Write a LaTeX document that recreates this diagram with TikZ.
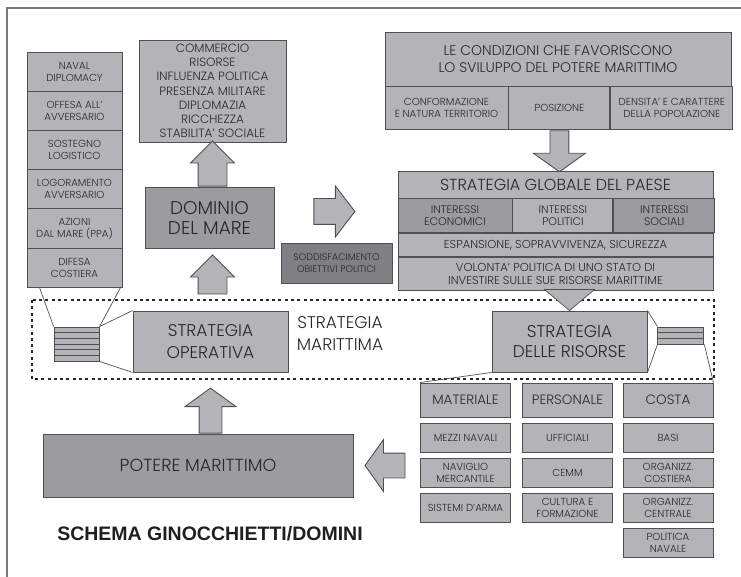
\documentclass[tikz,border=0pt]{standalone}
\usepackage{fontspec}
\setmainfont{Poppins}[UprightFont=* Light]
\newfontfamily\titlefont{Liberation Sans}
\usetikzlibrary{positioning,calc,shapes.arrows}

\definecolor{boxgray}{RGB}{180,180,184}
\definecolor{midgray}{RGB}{156,156,160}
\definecolor{deepgray}{RGB}{128,128,132}
\definecolor{edgegray}{RGB}{80,80,82}
\definecolor{framegray}{RGB}{120,120,120}
\definecolor{inkgray}{RGB}{40,40,40}

\begin{document}
\begin{tikzpicture}[x=1pt,y=-1pt,line width=0.9pt,
    gbox/.style={draw=edgegray,fill=boxgray,text=inkgray,align=center,inner sep=0pt},
    midbox/.style={gbox,fill=midgray},
    deepbox/.style={gbox,fill=deepgray},
    bigarrow/.style={single arrow,draw=edgegray,fill=boxgray,inner xsep=0pt,anchor=tail},
    vertarrow/.style={single arrow,draw=edgegray,fill=boxgray,inner ysep=0pt,anchor=tail},
    smalltxt/.style={font=\fontsize{10.2}{12}\selectfont},
    medtxt/.style={font=\fontsize{12}{14.2}\selectfont},
    hdtxt/.style={font=\fontsize{13.5}{16}\selectfont},
    bigtxt/.style={font=\fontsize{17}{21.5}\selectfont},
    edgeline/.style={draw=edgegray,line width=0.7pt},
    dotframe/.style={line width=2.9pt,dash pattern=on 3pt off 3.3pt,draw=black!85}]
\useasboundingbox (0,0) rectangle (741,577);
\draw[framegray,line width=1.5pt] (7,577) -- (7,8) -- (741,8);

\foreach \txt [count=\i] in {{NAVAL\\DIPLOMACY},{OFFESA ALL'\\AVVERSARIO},{SOSTEGNO\\LOGISTICO},
    {LOGORAMENTO\\AVVERSARIO},{AZIONI\\DAL MARE (PPA)},{DIFESA\\COSTIERA}}
  \node[gbox,smalltxt,minimum width=95,minimum height=39.2] (op\i) at (74.5,{52+39.2*(\i-0.5)}) {\txt};

\node[gbox,medtxt,minimum width=147,minimum height=102] (com) at (212.5,91)
  {COMMERCIO\\RISORSE\\INFLUENZA POLITICA\\PRESENZA MILITARE\\DIPLOMAZIA\\RICCHEZZA\\STABILITA' SOCIALE};
\node[midbox,font=\fontsize{18.5}{20}\selectfont,minimum width=129,minimum height=61] (dom) at (209.5,217.5) {DOMINIO\\DEL MARE};
\node[vertarrow,shape border rotate=90,minimum height=45,inner xsep=14pt,
  single arrow head extend=7.5pt,single arrow tip angle=90] (ar1) at (com.south |- dom.north) {};
\node[vertarrow,shape border rotate=90,minimum height=39,inner xsep=14pt,
  single arrow head extend=7.5pt,single arrow tip angle=90] (ar2) at ($(com.south |- dom.south)+(0,46)$) {};
\node[bigarrow,minimum height=41,inner ysep=12.5pt,
  single arrow head extend=12.5pt,single arrow tip angle=105] (ar3) at ($(dom.east)+(39,-6)$) {};
\node[deepbox,font=\fontsize{9.5}{11.5}\selectfont,minimum width=111,minimum height=40] (sod) at (336.5,263) {SODDISFACIMENTO\\OBIETTIVI POLITICI};

\node[gbox,font=\fontsize{14}{17}\selectfont,minimum width=346,minimum height=54] (cnd) at (558,59)
  {LE CONDIZIONI CHE FAVORISCONO\\LO SVILUPPO DEL POTERE MARITTIMO};
\node[gbox,smalltxt,minimum width=123,minimum height=43,anchor=north west] (cnd1) at (cnd.south west) {CONFORMAZIONE\\E NATURA TERRITORIO};
\node[gbox,smalltxt,minimum width=101,minimum height=43,anchor=north west] (cnd2) at (cnd1.north east) {POSIZIONE};
\node[gbox,smalltxt,minimum width=122,minimum height=43,anchor=north west] (cnd3) at (cnd2.north east) {DENSITA' E CARATTERE\\DELLA POPOLAZIONE};
\node[vertarrow,shape border rotate=270,minimum height=41,inner xsep=9pt,
  single arrow head extend=16.5pt,single arrow tip angle=109] (ar4) at (cnd2.south) {};

\node[gbox,font=\fontsize{16}{18}\selectfont,minimum width=315,minimum height=27] (sgt) at (555.5,184.5) {STRATEGIA GLOBALE DEL PAESE};
\node[midbox,font=\fontsize{11}{12.5}\selectfont,minimum width=114,minimum height=34,anchor=north west] (sgi1) at (sgt.south west) {INTERESSI\\ECONOMICI};
\node[gbox,font=\fontsize{11}{12.5}\selectfont,minimum width=100,minimum height=34,anchor=north west] (sgi2) at (sgi1.north east) {INTERESSI\\POLITICI};
\node[midbox,font=\fontsize{11}{12.5}\selectfont,minimum width=101,minimum height=34,anchor=north west] (sgi3) at (sgi2.north east) {INTERESSI\\SOCIALI};
\node[gbox,font=\fontsize{11.5}{13}\selectfont,minimum width=315,minimum height=23,anchor=north west] (sge) at (sgi1.south west) {ESPANSIONE, SOPRAVVIVENZA, SICUREZZA};
\node[gbox,font=\fontsize{11.5}{13}\selectfont,minimum width=315,minimum height=33,anchor=north west] (sgv) at (sge.south west)
  {VOLONTA' POLITICA DI UNO STATO DI\\INVESTIRE SULLE SUE RISORSE MARITTIME};

\draw[dotframe] (32,300) rectangle (714,379);

\node[gbox,bigtxt,minimum width=155,minimum height=61] (so) at (210.5,341.5) {STRATEGIA\\OPERATIVA};
\node[font=\fontsize{17}{21.5}\selectfont,text=inkgray,align=center] (smar) at (340,333.5) {STRATEGIA\\MARITTIMA};
\node[gbox,font=\fontsize{17}{20}\selectfont,minimum width=155,minimum height=61] (sr) at (569.5,341.5) {STRATEGIA\\DELLE RISORSE};
\draw[edgeline,fill=boxgray] ($(sr.north)+(-25,-21)$) -- ($(sr.north)+(25,-21)$) -- (sr.north) -- cycle;

\node[gbox,minimum width=45,minimum height=34,left=33pt of so,yshift=-2.5pt] (st1) {};
\foreach \k in {1,...,5}
  \draw[edgeline] ($(st1.north west)!\k/6!(st1.south west)$) -- ($(st1.north east)!\k/6!(st1.south east)$);
\node[gbox,minimum width=46,minimum height=17,right=10pt of sr,yshift=6pt] (st2) {};
\foreach \k in {1,2}
  \draw[edgeline] ($(st2.north west)!\k/3!(st2.south west)$) -- ($(st2.north east)!\k/3!(st2.south east)$);

\foreach \col/\cx/\hd in {mat/465.5/MATERIALE,per/567.5/PERSONALE,cos/668/COSTA}
  \node[gbox,hdtxt,minimum width=90,minimum height=34] (\col) at (\cx,400) {\hd};
\node[gbox,smalltxt,minimum width=90,minimum height=29,below=6pt of mat] (mat1) {MEZZI NAVALI};
\node[gbox,smalltxt,minimum width=90,minimum height=29,below=5pt of mat1] (mat2) {NAVIGLIO\\MERCANTILE};
\node[gbox,smalltxt,minimum width=90,minimum height=29,below=5pt of mat2] (mat3) {SISTEMI D'ARMA};
\node[gbox,smalltxt,minimum width=90,minimum height=29,below=6pt of per] (per1) {UFFICIALI};
\node[gbox,smalltxt,minimum width=90,minimum height=29,below=5pt of per1] (per2) {CEMM};
\node[gbox,smalltxt,minimum width=90,minimum height=29,below=5pt of per2] (per3) {CULTURA E\\FORMAZIONE};
\node[gbox,smalltxt,minimum width=90,minimum height=29,below=6pt of cos] (cos1) {BASI};
\node[gbox,smalltxt,minimum width=90,minimum height=29,below=5pt of cos1] (cos2) {ORGANIZZ.\\COSTIERA};
\node[gbox,smalltxt,minimum width=90,minimum height=29,below=5pt of cos2] (cos3) {ORGANIZZ.\\CENTRALE};
\node[gbox,smalltxt,minimum width=90,minimum height=29,below=5pt of cos3] (cos4) {POLITICA\\NAVALE};

\draw[edgeline] ($(op6.south west)+(13,0)$) -- (st1.north west);
\draw[edgeline] ($(op6.south east)+(-2,0)$) -- (st1.north east);
\draw[edgeline] (st1.north east) -- (so.north west);
\draw[edgeline] (st1.south east) -- (so.south west);
\draw[edgeline] (sr.north east) -- (st2.north west);
\draw[edgeline] (sr.south east) -- (st2.south west);
\draw[edgeline] (st2.south east) -- (cos.north east);
\draw[edgeline] (sr.south west) -- (mat.north west);

\node[midbox,font=\fontsize{17.5}{19}\selectfont,minimum width=310,minimum height=63] (pot) at (198,465.5) {POTERE MARITTIMO};
\node[bigarrow,shape border rotate=180,minimum height=40,inner ysep=12pt,
  single arrow head extend=13.5pt,single arrow tip angle=109] (ar5) at ($(pot.east)+(52,0)$) {};
\node[vertarrow,shape border rotate=90,minimum height=45,inner xsep=11pt,
  single arrow head extend=14pt,single arrow tip angle=108] (ar6) at (so.south |- pot.north) {};

\node[font=\titlefont\bfseries\fontsize{19.5}{22}\selectfont,text=black!88] (ttl) at (210,533.5) {SCHEMA GINOCCHIETTI/DOMINI};
\end{tikzpicture}
\end{document}
